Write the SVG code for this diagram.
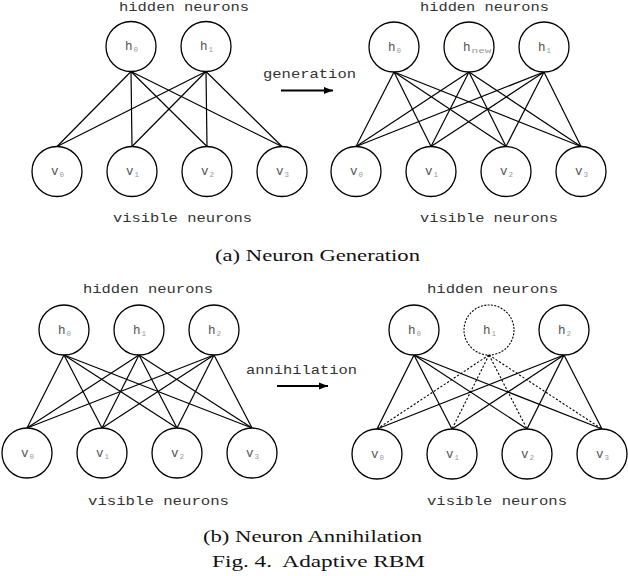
<svg xmlns="http://www.w3.org/2000/svg" width="628" height="576" viewBox="0 0 628 576">
<style>
.c{fill:#fff;stroke:#000;stroke-width:1.3}
.cd{fill:#fff;stroke:#000;stroke-width:1.1;stroke-dasharray:2 1.4}
.e{stroke:#000;stroke-width:1.2;fill:none}
.ed{stroke:#000;stroke-width:1.1;fill:none;stroke-dasharray:2.2 1.8}
.ar{stroke:#000;stroke-width:2;fill:none}
.m{font-family:"Liberation Mono","DejaVu Sans Mono",monospace;font-size:13px;fill:#333}
.l{font-family:"Liberation Mono","DejaVu Sans Mono",monospace;font-size:12.5px;fill:#555}
.s{font-size:7.5px;fill:#999}
.cap{font-family:"Liberation Serif","Times New Roman",serif;font-size:17px;fill:#111}
</style>
<defs>
<marker id="ah" markerUnits="userSpaceOnUse" markerWidth="11" markerHeight="9" refX="9" refY="4.5" orient="auto">
<path d="M0,1 L9,4.5 L0,8 Z" fill="#000"/>
</marker>
</defs>
<g id="connectors">
<g id="edges-a-left">
<line class="e" x1="131" y1="71.5" x2="57" y2="146.5"/>
<line class="e" x1="131" y1="71.5" x2="132" y2="146.5"/>
<line class="e" x1="131" y1="71.5" x2="207" y2="146.5"/>
<line class="e" x1="131" y1="71.5" x2="282" y2="146.5"/>
<line class="e" x1="206" y1="71.5" x2="57" y2="146.5"/>
<line class="e" x1="206" y1="71.5" x2="132" y2="146.5"/>
<line class="e" x1="206" y1="71.5" x2="207" y2="146.5"/>
<line class="e" x1="206" y1="71.5" x2="282" y2="146.5"/>
</g>
<g id="edges-a-right">
<line class="e" x1="394" y1="72" x2="356" y2="146.5"/>
<line class="e" x1="394" y1="72" x2="431" y2="146.5"/>
<line class="e" x1="394" y1="72" x2="506" y2="146.5"/>
<line class="e" x1="394" y1="72" x2="581" y2="146.5"/>
<line class="e" x1="469" y1="72" x2="356" y2="146.5"/>
<line class="e" x1="469" y1="72" x2="431" y2="146.5"/>
<line class="e" x1="469" y1="72" x2="506" y2="146.5"/>
<line class="e" x1="469" y1="72" x2="581" y2="146.5"/>
<line class="e" x1="544" y1="72" x2="356" y2="146.5"/>
<line class="e" x1="544" y1="72" x2="431" y2="146.5"/>
<line class="e" x1="544" y1="72" x2="506" y2="146.5"/>
<line class="e" x1="544" y1="72" x2="581" y2="146.5"/>
</g>
<g id="edges-b-left">
<line class="e" x1="64" y1="355" x2="27" y2="428"/>
<line class="e" x1="64" y1="355" x2="102" y2="428"/>
<line class="e" x1="64" y1="355" x2="177" y2="428"/>
<line class="e" x1="64" y1="355" x2="252" y2="428"/>
<line class="e" x1="139" y1="355" x2="27" y2="428"/>
<line class="e" x1="139" y1="355" x2="102" y2="428"/>
<line class="e" x1="139" y1="355" x2="177" y2="428"/>
<line class="e" x1="139" y1="355" x2="252" y2="428"/>
<line class="e" x1="214" y1="355" x2="27" y2="428"/>
<line class="e" x1="214" y1="355" x2="102" y2="428"/>
<line class="e" x1="214" y1="355" x2="177" y2="428"/>
<line class="e" x1="214" y1="355" x2="252" y2="428"/>
</g>
<g id="edges-b-right">
<line class="e" x1="414" y1="355" x2="377" y2="429"/>
<line class="e" x1="414" y1="355" x2="452" y2="429"/>
<line class="e" x1="414" y1="355" x2="527" y2="429"/>
<line class="e" x1="414" y1="355" x2="602" y2="429"/>
<line class="ed" x1="489" y1="355" x2="377" y2="429"/>
<line class="ed" x1="489" y1="355" x2="452" y2="429"/>
<line class="ed" x1="489" y1="355" x2="527" y2="429"/>
<line class="ed" x1="489" y1="355" x2="602" y2="429"/>
<line class="e" x1="564" y1="355" x2="377" y2="429"/>
<line class="e" x1="564" y1="355" x2="452" y2="429"/>
<line class="e" x1="564" y1="355" x2="527" y2="429"/>
<line class="e" x1="564" y1="355" x2="602" y2="429"/>
</g>
<g id="arrows">
<line class="ar" x1="281" y1="90.5" x2="333" y2="90.5" marker-end="url(#ah)"/>
<line class="ar" x1="277" y1="386" x2="328" y2="386" marker-end="url(#ah)"/>
</g>
</g>

<!-- Panel (a) left -->
<g id="a-h0"><circle class="c" cx="131" cy="46.5" r="25"/><text class="l" x="125" y="50">h<tspan class="s" dx="1" dy="2">0</tspan></text></g>
<g id="a-h1"><circle class="c" cx="206" cy="46.5" r="25"/><text class="l" x="200" y="50">h<tspan class="s" dx="1" dy="2">1</tspan></text></g>
<g id="a-v0"><circle class="c" cx="57" cy="171.5" r="25"/><text class="l" x="51" y="175">v<tspan class="s" dx="1" dy="2">0</tspan></text></g>
<g id="a-v1"><circle class="c" cx="132" cy="171.5" r="25"/><text class="l" x="126" y="175">v<tspan class="s" dx="1" dy="2">1</tspan></text></g>
<g id="a-v2"><circle class="c" cx="207" cy="171.5" r="25"/><text class="l" x="201" y="175">v<tspan class="s" dx="1" dy="2">2</tspan></text></g>
<g id="a-v3"><circle class="c" cx="282" cy="171.5" r="25"/><text class="l" x="276" y="175">v<tspan class="s" dx="1" dy="2">3</tspan></text></g>

<!-- Panel (a) right -->
<g id="a2-h0"><circle class="c" cx="394" cy="47" r="25"/><text class="l" x="388" y="50.5">h<tspan class="s" dx="1" dy="2">0</tspan></text></g>
<g id="a2-hnew"><circle class="c" cx="469" cy="47" r="25"/><text class="l" x="463" y="50.5">h<tspan class="s" dx="1" dy="2" textLength="20" lengthAdjust="spacingAndGlyphs">new</tspan></text></g>
<g id="a2-h1"><circle class="c" cx="544" cy="47" r="25"/><text class="l" x="538" y="50.5">h<tspan class="s" dx="1" dy="2">1</tspan></text></g>
<g id="a2-v0"><circle class="c" cx="356" cy="171.5" r="25"/><text class="l" x="350" y="175">v<tspan class="s" dx="1" dy="2">0</tspan></text></g>
<g id="a2-v1"><circle class="c" cx="431" cy="171.5" r="25"/><text class="l" x="425" y="175">v<tspan class="s" dx="1" dy="2">1</tspan></text></g>
<g id="a2-v2"><circle class="c" cx="506" cy="171.5" r="25"/><text class="l" x="500" y="175">v<tspan class="s" dx="1" dy="2">2</tspan></text></g>
<g id="a2-v3"><circle class="c" cx="581" cy="171.5" r="25"/><text class="l" x="575" y="175">v<tspan class="s" dx="1" dy="2">3</tspan></text></g>

<!-- Panel (b) left -->
<g id="b-h0"><circle class="c" cx="64" cy="330" r="25"/><text class="l" x="58" y="333.5">h<tspan class="s" dx="1" dy="2">0</tspan></text></g>
<g id="b-h1"><circle class="c" cx="139" cy="330" r="25"/><text class="l" x="133" y="333.5">h<tspan class="s" dx="1" dy="2">1</tspan></text></g>
<g id="b-h2"><circle class="c" cx="214" cy="330" r="25"/><text class="l" x="208" y="333.5">h<tspan class="s" dx="1" dy="2">2</tspan></text></g>
<g id="b-v0"><circle class="c" cx="27" cy="453" r="25"/><text class="l" x="21" y="456.5">v<tspan class="s" dx="1" dy="2">0</tspan></text></g>
<g id="b-v1"><circle class="c" cx="102" cy="453" r="25"/><text class="l" x="96" y="456.5">v<tspan class="s" dx="1" dy="2">1</tspan></text></g>
<g id="b-v2"><circle class="c" cx="177" cy="453" r="25"/><text class="l" x="171" y="456.5">v<tspan class="s" dx="1" dy="2">2</tspan></text></g>
<g id="b-v3"><circle class="c" cx="252" cy="453" r="25"/><text class="l" x="246" y="456.5">v<tspan class="s" dx="1" dy="2">3</tspan></text></g>

<!-- Panel (b) right -->
<g id="b2-h0"><circle class="c" cx="414" cy="330" r="25"/><text class="l" x="408" y="333.5">h<tspan class="s" dx="1" dy="2">0</tspan></text></g>
<g id="b2-h1"><circle class="cd" cx="489" cy="330" r="25"/><text class="l" x="483" y="333.5">h<tspan class="s" dx="1" dy="2">1</tspan></text></g>
<g id="b2-h2"><circle class="c" cx="564" cy="330" r="25"/><text class="l" x="558" y="333.5">h<tspan class="s" dx="1" dy="2">2</tspan></text></g>
<g id="b2-v0"><circle class="c" cx="377" cy="454" r="25"/><text class="l" x="371" y="457.5">v<tspan class="s" dx="1" dy="2">0</tspan></text></g>
<g id="b2-v1"><circle class="c" cx="452" cy="454" r="25"/><text class="l" x="446" y="457.5">v<tspan class="s" dx="1" dy="2">1</tspan></text></g>
<g id="b2-v2"><circle class="c" cx="527" cy="454" r="25"/><text class="l" x="521" y="457.5">v<tspan class="s" dx="1" dy="2">2</tspan></text></g>
<g id="b2-v3"><circle class="c" cx="602" cy="454" r="25"/><text class="l" x="596" y="457.5">v<tspan class="s" dx="1" dy="2">3</tspan></text></g>

<g id="labels">
<text class="m" x="119" y="11" textLength="130" lengthAdjust="spacingAndGlyphs">hidden neurons</text>
<text class="m" x="113" y="222" textLength="139" lengthAdjust="spacingAndGlyphs">visible neurons</text>
<text class="m" x="420" y="11" textLength="129" lengthAdjust="spacingAndGlyphs">hidden neurons</text>
<text class="m" x="420" y="222" textLength="138" lengthAdjust="spacingAndGlyphs">visible neurons</text>
<text class="m" x="263" y="78" textLength="93" lengthAdjust="spacingAndGlyphs">generation</text>
<text class="m" x="83" y="293" textLength="130" lengthAdjust="spacingAndGlyphs">hidden neurons</text>
<text class="m" x="88" y="505" textLength="141" lengthAdjust="spacingAndGlyphs">visible neurons</text>
<text class="m" x="427" y="293" textLength="131" lengthAdjust="spacingAndGlyphs">hidden neurons</text>
<text class="m" x="427" y="505" textLength="140" lengthAdjust="spacingAndGlyphs">visible neurons</text>
<text class="m" x="246" y="374" textLength="111" lengthAdjust="spacingAndGlyphs">annihilation</text>
<text class="cap" x="215" y="261" textLength="205" lengthAdjust="spacingAndGlyphs">(a) Neuron Generation</text>
<text class="cap" x="203" y="542" textLength="219" lengthAdjust="spacingAndGlyphs">(b) Neuron Annihilation</text>
<text class="cap" x="212" y="567" textLength="213" lengthAdjust="spacingAndGlyphs" xml:space="preserve">Fig. 4.  Adaptive RBM</text>
</g>
</svg>
